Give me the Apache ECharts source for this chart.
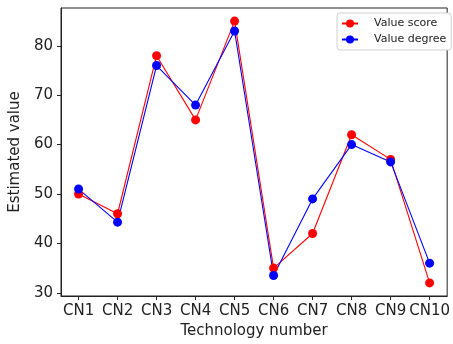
<!DOCTYPE html>
<html>
<head>
<meta charset="utf-8">
<script src="https://cdn.jsdelivr.net/npm/echarts@6/dist/echarts.min.js"></script>
<style>html,body{margin:0;padding:0;background:#fff}#c{width:453px;height:344px}</style>
</head>
<body>
<div id="c"></div>
<script>
var categories = ['CN1','CN2','CN3','CN4','CN5','CN6','CN7','CN8','CN9','CN10'];
var valueScore = [50, 46, 78, 65, 85, 35, 42, 62, 57, 32];
var valueDegree = [51, 44.3, 76, 68, 83, 33.5, 49, 60, 56.5, 36];
var yTicks = [30, 40, 50, 60, 70, 80];
var xTicks = [0,1,2,3,4,5,6,7,8,9];

function pairs(arr){ return arr.map(function(v,i){ return [i, v]; }); }

var chart = echarts.init(document.getElementById('c'), null, {renderer:'canvas'});
var font = 'DejaVu Sans';
chart.setOption({
  animation: false,
  backgroundColor: '#fff',
  grid: { left: 61, top: 8, width: 394, height: 293, show: true, borderColor: '#222', borderWidth: 1 },
  legend: {
    orient: 'vertical', left: 337, top: 13,
    backgroundColor: '#fff', borderColor: '#d0d0d0', borderWidth: 1, borderRadius: 3,
    padding: [5, 5, 5, 4], itemGap: 5, itemWidth: 16, itemHeight: 10,
    textStyle: { fontFamily: font, fontSize: 11, color: '#222', padding: [0,0,0,11] },
    data: ['Value score', 'Value degree']
  },
  xAxis: {
    type: 'value', min: -0.45, max: 9.45,
    name: 'Technology number', nameLocation: 'middle', nameGap: 28,
    nameTextStyle: { fontFamily: font, fontSize: 15, color: '#222' },
    axisLine: { show: true, onZero: false, lineStyle: { color: '#222' } },
    splitLine: { show: false },
    axisTick: { show: true, length: 4, customValues: xTicks, lineStyle: { color: '#222' } },
    axisLabel: { customValues: xTicks, margin: 8, fontFamily: font, fontSize: 15, color: '#222',
      formatter: function(v){ return categories[Math.round(v)]; } }
  },
  yAxis: {
    type: 'value', min: 29.35, max: 87.65,
    name: 'Estimated value', nameLocation: 'middle', nameGap: 31, nameRotate: 90,
    nameTextStyle: { fontFamily: font, fontSize: 15, color: '#222' },
    axisLine: { show: true, onZero: false, lineStyle: { color: '#222' } },
    splitLine: { show: false },
    axisTick: { show: true, length: 4, customValues: yTicks, lineStyle: { color: '#222' } },
    axisLabel: { customValues: yTicks, margin: 8, fontFamily: font, fontSize: 15, color: '#222' }
  },
  series: [
    { name: 'Value score', type: 'line', data: pairs(valueScore), symbol: 'circle', symbolSize: 9,
      itemStyle: { color: '#ff0000' }, lineStyle: { color: '#ff0000', width: 1.1 } },
    { name: 'Value degree', type: 'line', data: pairs(valueDegree), symbol: 'circle', symbolSize: 9,
      itemStyle: { color: '#0000ff' }, lineStyle: { color: '#0000ff', width: 1.1 } }
  ]
});
</script>
</body>
</html>
